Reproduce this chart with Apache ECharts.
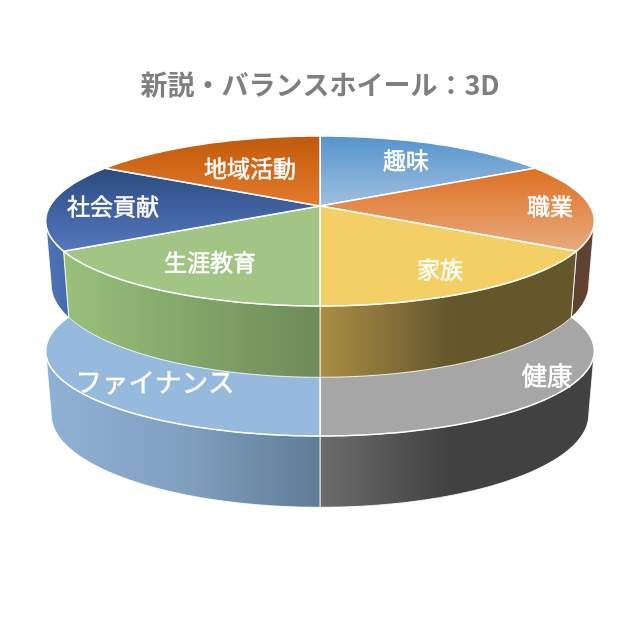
<!DOCTYPE html>
<html><head><meta charset="utf-8">
<style>html,body{margin:0;padding:0;background:#fff}#c{width:640px;height:620px}</style>
<script src="https://cdn.jsdelivr.net/npm/echarts@6/dist/echarts.min.js"></script>
</head><body><div id="c"></div>
<script>
const titleText = '新説・バランスホイール：3D';
const upperCategories = ['趣味','職業','家族','生涯教育','社会貢献','地域活動'];
const upperValues = [1,1,1,1,1,1];
const lowerCategories = ['健康','ファイナンス'];
const lowerValues = [1,1];

// Styling (per slice): top-face gradient [colorTop,colorBottom,yTop,yBottom]; side gradient [x1,x2,stops]
const upperTop = [
 ['#5594CC','#9DBFE0',136,206],['#DE6F22','#E9AB7F',168,252],['#F3CF65','#F3CF65',206,306],
 ['#A2C586','#A2C586',206,306],['#2C4A80','#5479BF',168,252],['#C25A0C','#E37A2C',136,206]];
const upperSide = [
 null,[560,600,[[0,'#5F4230'],[1,'#5F4230']]],
 [320,450,[[0,'#A98F42'],[0.55,'#847039'],[1,'#64572A']]],
 [66,320,[[0,'#98C07B'],[1,'#6E8A58']]],
 [45,70,[[0,'#4F75B8'],[1,'#4469A8']]],null];
const lowerTop = [['#A6A6A6','#A6A6A6',336,436],['#96BADD','#96BADD',336,436]];
const lowerSide = [
 [320,450,[[0,'#6C6C6C'],[1,'#414141']]],
 [48,320,[[0,'#8FB1D5'],[0.5,'#80A0C0'],[1,'#5F7C97']]]];
const upperLabels = [[406,160],[550,206],[440,269],[210,262],[113,206],[250,168]];
const lowerLabels = [[547,375],[155,382]];
const labelFont = '"Noto Sans CJK JP"';

// Projection of the tilted wheel (perspective: near edge larger than far edge)
const cx = 320, R = 270, S = 82.35, K = 0.1765;
const SB = 90, XB = 0.98, BASE_DY = 62;
const sil = Math.acos(-K)*180/Math.PI;   // silhouette angle
function proj(deg, apex, base){
  const a = deg*Math.PI/180, c = Math.cos(a), s = Math.sin(a), w = 1+K*c;
  return base ? [cx + XB*R*s/w, apex+BASE_DY - SB*c/w] : [cx + R*s/w, apex - S*c/w];
}
function arc(a0,a1,apex,base){
  const n = Math.max(2,Math.ceil(Math.abs(a1-a0)/1.5)), out=[];
  for(let i=0;i<=n;i++) out.push(proj(a0+(a1-a0)*i/n,apex,base));
  return out;
}
function spans(vals){
  const t = vals.reduce((a,b)=>a+b,0); let acc=0;
  return vals.map(v=>{const s=acc/t*360; acc+=v; return [s,acc/t*360];});
}
const lin=(x,y,x2,y2,stops)=>new echarts.graphic.LinearGradient(x,y,x2,y2,stops.map(s=>({offset:s[0],color:s[1]})),true);

function sideSeries(vals,apex,styles,z){
  return {type:'custom',coordinateSystem:'none',silent:true,z,animation:false,clip:false,
    data:spans(vals),
    renderItem(p,api){
      const a0=Math.max(api.value(0),sil), a1=Math.min(api.value(1),360-sil), st=styles[p.dataIndex];
      if(a1<=a0||!st) return {type:'group',children:[]};
      const pts=arc(a0,a1,apex,false).concat(arc(a1,a0,apex,true));
      return {type:'polygon',shape:{points:pts},style:{fill:lin(st[0],0,st[1],0,st[2]),stroke:'rgba(255,255,255,0.85)',lineWidth:1,lineJoin:'round'}};
    }};
}
function topSeries(vals,names,apex,styles,labels,z,size){
  return {type:'custom',coordinateSystem:'none',silent:true,z,animation:false,clip:false,
    data:spans(vals),
    renderItem(p,api){
      const i=p.dataIndex, st=styles[i], pts=[[cx,apex]].concat(arc(api.value(0),api.value(1),apex,false));
      return {type:'group',children:[
        {type:'polygon',z2:1,shape:{points:pts},style:{fill:lin(0,st[2],0,st[3],[[0,st[0]],[1,st[1]]]),stroke:'#fff',lineWidth:1.5,lineJoin:'round'}},
        {type:'text',z2:2,x:labels[i][0],y:labels[i][1],style:{text:names[i],fill:'#fff',stroke:'#fff',lineWidth:0.5,font:'normal '+size[i]+'px '+labelFont,textAlign:'center',textVerticalAlign:'middle'}}
      ]};
    }};
}
const chart = echarts.init(document.getElementById('c'),null,{renderer:'canvas'});
chart.setOption({
  animation:false,backgroundColor:'#fff',
  title:{text:titleText,left:'center',top:66,textStyle:{color:'#7F7F7F',fontSize:27,fontWeight:'bold',fontFamily:'"Noto Sans CJK JP"'}},
  series:[
    sideSeries(lowerValues,336,lowerSide,1),
    topSeries(lowerValues,lowerCategories,336,lowerTop,lowerLabels,2,[25.5,26.5]),
    sideSeries(upperValues,206,upperSide,3),
    topSeries(upperValues,upperCategories,206,upperTop,upperLabels,4,[23,23,23,23,23,23])
  ]
});
</script></body></html>
